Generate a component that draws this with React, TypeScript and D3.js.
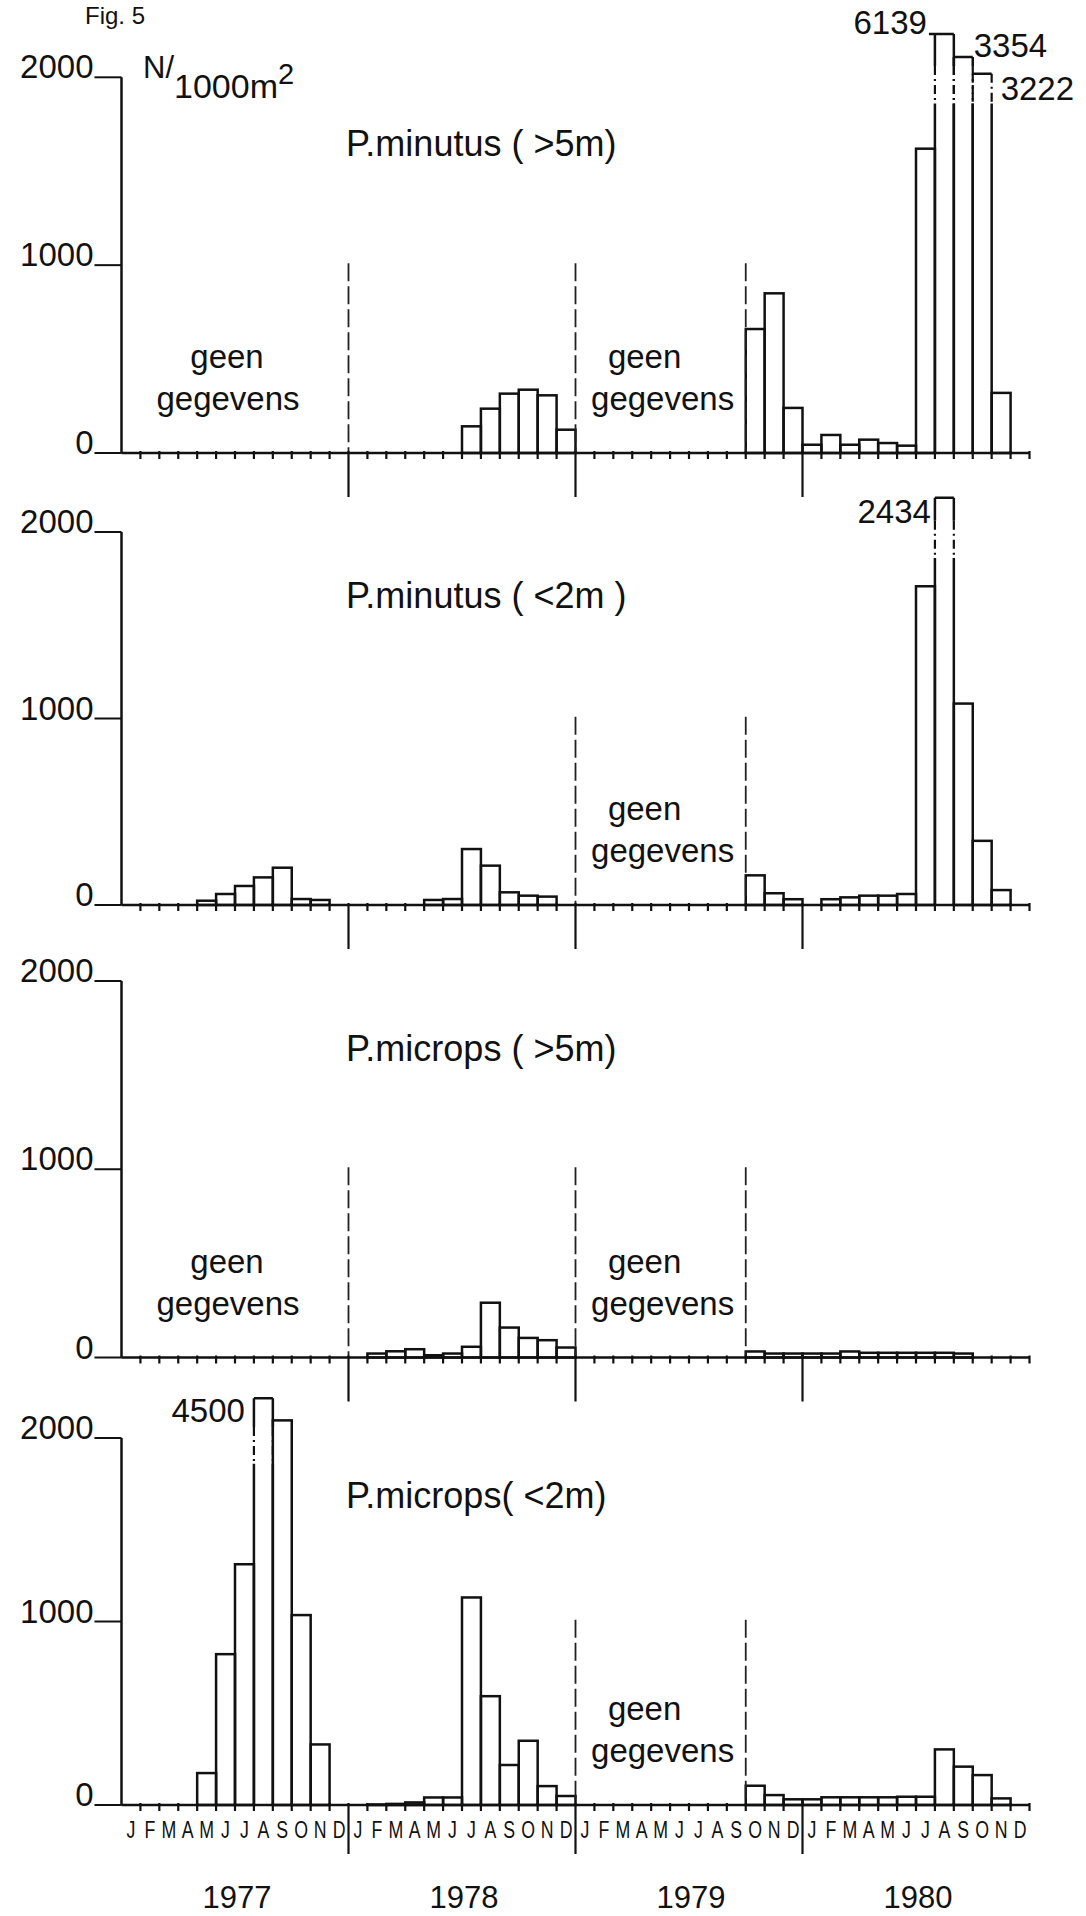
import * as React from 'react';
import { useEffect, useRef } from 'react';
import * as d3 from 'd3';

// N per 1000 m2, monthly, one row per year; null = geen gegevens
const months = ['J', 'F', 'M', 'A', 'M', 'J', 'J', 'A', 'S', 'O', 'N', 'D'];
const years = ['1977', '1978', '1979', '1980'];
const yTicks = [0, 1000, 2000];
const titles = ['P.minutus ( >5m)', 'P.minutus ( <2m )', 'P.microps ( >5m)', 'P.microps( <2m)'];

const minutusDeep = [
    [null, null, null, null, null, null, null, null, null, null, null, null],
    [0, 0, 0, 0, 0, 0, 142, 236, 316, 337, 307, 124],
    [null, null, null, null, null, null, null, null, null, 660, 850, 240],
    [44, 96, 44, 71, 53, 39, 1620, 6139, 3354, 3222, 320, 0],
];
const minutusShallow = [
    [0, 0, 0, 0, 23, 59, 102, 148, 200, 32, 27, 0],
    [0, 0, 0, 0, 27, 32, 300, 211, 68, 50, 45, 0],
    [null, null, null, null, null, null, null, null, null, 159, 63, 31],
    [0, 31, 41, 50, 50, 59, 1709, 2434, 1080, 344, 80, 0],
];
const micropsDeep = [
    [null, null, null, null, null, null, null, null, null, null, null, null],
    [0, 21, 33, 44, 12, 21, 57, 291, 159, 104, 92, 53],
    [null, null, null, null, null, null, null, null, null, 32, 21, 21],
    [21, 21, 32, 25, 25, 25, 25, 25, 21, 0, 0, 0],
];
const micropsShallow = [
    [0, 0, 0, 0, 174, 822, 1312, 4500, 2096, 1035, 330, 0],
    [0, 3, 6, 14, 41, 41, 1131, 593, 218, 350, 103, 49],
    [null, null, null, null, null, null, null, null, null, 105, 54, 31],
    [31, 42, 42, 42, 42, 45, 45, 303, 209, 163, 36, 0],
];

// bars that run off the scale: height they are drawn to (value units)
const brokenBars = [
    { panel: 0, year: 3, month: 7, drawnTo: 2230 },
    { panel: 0, year: 3, month: 8, drawnTo: 2108 },
    { panel: 0, year: 3, month: 9, drawnTo: 2019 },
    { panel: 1, year: 3, month: 7, drawnTo: 2184 },
    { panel: 3, year: 0, month: 7, drawnTo: 2216 },
];

const series = [minutusDeep, minutusShallow, micropsDeep, micropsShallow];

const FONT = "'Liberation Sans', Arial, Helvetica, sans-serif";
const INK = '#111';

export default function App() {
    const ref = useRef<SVGSVGElement>(null);

    useEffect(() => {
        const svg = d3.select(ref.current);
        svg.selectAll('*').remove();

        const x0 = 121.5;
        const x = d3.scaleLinear().domain([0, 48]).range([x0, 1029.5]);
        const mw = x(1) - x(0);

        // baseline and 2000-level position of each panel
        const panels = [
            { base: 453, top: 77.3 },
            { base: 905, top: 532 },
            { base: 1357.5, top: 981 },
            { base: 1805, top: 1438 },
        ];
        // label placement for the broken bars
        const breakLabels = [
            { side: 'left', dx: -8, dy: 0, lead: 6 },
            { side: 'right', dx: 1, dy: 0, lead: 0 },
            { side: 'right', dx: 9, dy: 26, lead: 0 },
            { side: 'left', dx: -4, dy: 25, lead: 0 },
            { side: 'left', dx: -9, dy: 24, lead: 0 },
        ];

        svg.append('rect').attr('width', 1086).attr('height', 1916).attr('fill', '#fff');

        // Fig. label at the top edge
        svg.append('text')
            .attr('x', 85).attr('y', 24)
            .attr('font-family', FONT).attr('font-size', 24)
            .attr('fill', INK)
            .text('Fig. 5');

        panels.forEach((p, pi) => {
            const y = d3.scaleLinear().domain([0, 2000]).range([p.base, p.top]);
            const values: (number | null)[] = series[pi].flat();
            const g = svg.append('g').attr('class', 'panel');

            const brokenHere = brokenBars
                .map((b, bi) => ({ ...b, bi, idx: b.year * 12 + b.month }))
                .filter((b) => b.panel === pi);
            const brokenIdx = new Set(brokenHere.map((b) => b.idx));

            // plain bars
            g.selectAll('rect.bar')
                .data(values.map((v, i) => ({ v, i })).filter((d) => d.v && !brokenIdx.has(d.i)))
                .enter()
                .append('rect')
                .attr('class', 'bar')
                .attr('x', (d) => x(d.i))
                .attr('width', mw)
                .attr('y', (d) => y(d.v as number))
                .attr('height', (d) => p.base - y(d.v as number))
                .attr('fill', 'none')
                .attr('stroke', INK)
                .attr('stroke-width', 2.5);

            // bars broken above the scale
            brokenHere.forEach((b) => {
                const xl = x(b.idx);
                const xr = x(b.idx + 1);
                const yt = y(b.drawnTo);
                const zTop = Math.max(yt, y(2060));
                const zBot = y(1860);
                const lab = breakLabels[b.bi];
                const solid = d3.path();
                solid.moveTo(xl - lab.lead, yt);
                solid.lineTo(xr, yt);
                [xl, xr].forEach((xx) => {
                    if (zTop > yt) {
                        solid.moveTo(xx, yt);
                        solid.lineTo(xx, zTop);
                    }
                    solid.moveTo(xx, zBot);
                    solid.lineTo(xx, p.base);
                });
                g.append('path').attr('d', solid.toString())
                    .attr('fill', 'none').attr('stroke', INK).attr('stroke-width', 2.5);
                [xl, xr].forEach((xx) => {
                    g.append('line')
                        .attr('x1', xx).attr('x2', xx)
                        .attr('y1', zTop).attr('y2', zBot)
                        .attr('stroke', INK).attr('stroke-width', 2.2)
                        .attr('stroke-dasharray', '9,4,2,4');
                });
                g.append('text')
                    .attr('x', lab.side === 'left' ? xl + lab.dx : xr + lab.dx)
                    .attr('y', yt + lab.dy)
                    .attr('text-anchor', lab.side === 'left' ? 'end' : 'start')
                    .attr('font-family', FONT).attr('font-size', 33)
                    .attr('fill', INK)
                    .text(String(values[b.idx]));
            });

            // dashed lines at the edges of the periods without data, and the text
            const runs: [number, number][] = [];
            let start = -1;
            values.forEach((v, i) => {
                if (v === null && start < 0) start = i;
                if (v !== null && start >= 0) { runs.push([start, i]); start = -1; }
            });
            if (start >= 0) runs.push([start, values.length]);
            const edges = runs.flatMap((r) => r).filter((i) => i > 0 && i < 48);
            g.selectAll('line.nodata')
                .data(edges)
                .enter()
                .append('line')
                .attr('class', 'nodata')
                .attr('x1', (i) => x(i)).attr('x2', (i) => x(i))
                .attr('y1', y(1010)).attr('y2', p.base)
                .attr('stroke', '#222').attr('stroke-width', 1.8)
                .attr('stroke-dasharray', '18,5');
            runs.forEach(([s, e]) => {
                const c = (x(s) + x(e)) / 2;
                g.append('text').attr('x', s === 0 ? c - 8 : c - 16).attr('y', p.base - 85)
                    .attr('text-anchor', 'middle')
                    .attr('font-family', FONT).attr('font-size', 33)
                    .attr('fill', INK)
                    .text('geen');
                g.append('text').attr('x', s === 0 ? c - 7 : c + 2).attr('y', p.base - 43)
                    .attr('text-anchor', 'middle')
                    .attr('font-family', FONT).attr('font-size', 33)
                    .attr('fill', INK)
                    .text('gegevens');
            });

            // y axis
            g.append('line')
                .attr('x1', x0).attr('x2', x0)
                .attr('y1', y(2000)).attr('y2', p.base)
                .attr('stroke', INK).attr('stroke-width', 2.5);
            yTicks.forEach((t) => {
                g.append('line')
                    .attr('x1', x0 - 27).attr('x2', x0)
                    .attr('y1', y(t)).attr('y2', y(t))
                    .attr('stroke', INK).attr('stroke-width', 2);
                g.append('text')
                    .attr('x', x0 - 28).attr('y', y(t) + 1)
                    .attr('text-anchor', 'end')
                    .attr('font-family', FONT).attr('font-size', 33)
                    .attr('fill', INK)
                    .text(String(t));
            });

            // baseline with month ticks and year dividers
            g.append('line')
                .attr('x1', x0).attr('x2', x(48))
                .attr('y1', p.base).attr('y2', p.base)
                .attr('stroke', INK).attr('stroke-width', 2.6);
            g.selectAll('line.mtick')
                .data(d3.range(1, 49))
                .enter()
                .append('line')
                .attr('class', 'mtick')
                .attr('x1', (i) => x(i)).attr('x2', (i) => x(i))
                .attr('y1', p.base - 2)
                .attr('y2', (i) => p.base + (i % 12 === 0 && i < 48 ? (pi === 3 ? 49 : 44) : 6))
                .attr('stroke', INK).attr('stroke-width', 2.2);

            // title
            g.append('text')
                .attr('x', 346).attr('y', p.base - 297)
                .attr('font-family', FONT).attr('font-size', 36)
                .attr('fill', INK)
                .text(titles[pi]);
        });

        // unit label
        const unit = svg.append('text')
            .attr('x', 143).attr('y', 78)
            .attr('font-family', FONT).attr('font-size', 31)
            .attr('fill', INK);
        unit.append('tspan').text('N/');
        unit.append('tspan').attr('dy', 20).attr('font-size', 34).text('1000m');
        unit.append('tspan').attr('dy', -14).attr('font-size', 29).text('2');

        // month and year labels under the last panel (narrow lettering)
        const last = panels[3];
        svg.selectAll('text.month')
            .data(d3.range(48))
            .enter()
            .append('text')
            .attr('class', 'month')
            .attr('transform', (i) => `translate(${x(i + 0.5)},${last.base + 33}) scale(0.74,1)`)
            .attr('text-anchor', 'middle')
            .attr('font-family', FONT).attr('font-size', 24)
            .attr('fill', INK)
            .text((i) => months[i % 12]);
        svg.selectAll('text.year')
            .data(years)
            .enter()
            .append('text')
            .attr('class', 'year')
            .attr('x', (d, i) => x(i * 12 + 6) + 2)
            .attr('y', last.base + 103)
            .attr('text-anchor', 'middle')
            .attr('font-family', FONT).attr('font-size', 31)
            .attr('fill', INK)
            .text((d) => d);
    }, []);

    return (
        <svg ref={ref} width={1086} height={1916}
            style={{ position: 'absolute', left: 0, top: 0, display: 'block' }} />
    );
}
